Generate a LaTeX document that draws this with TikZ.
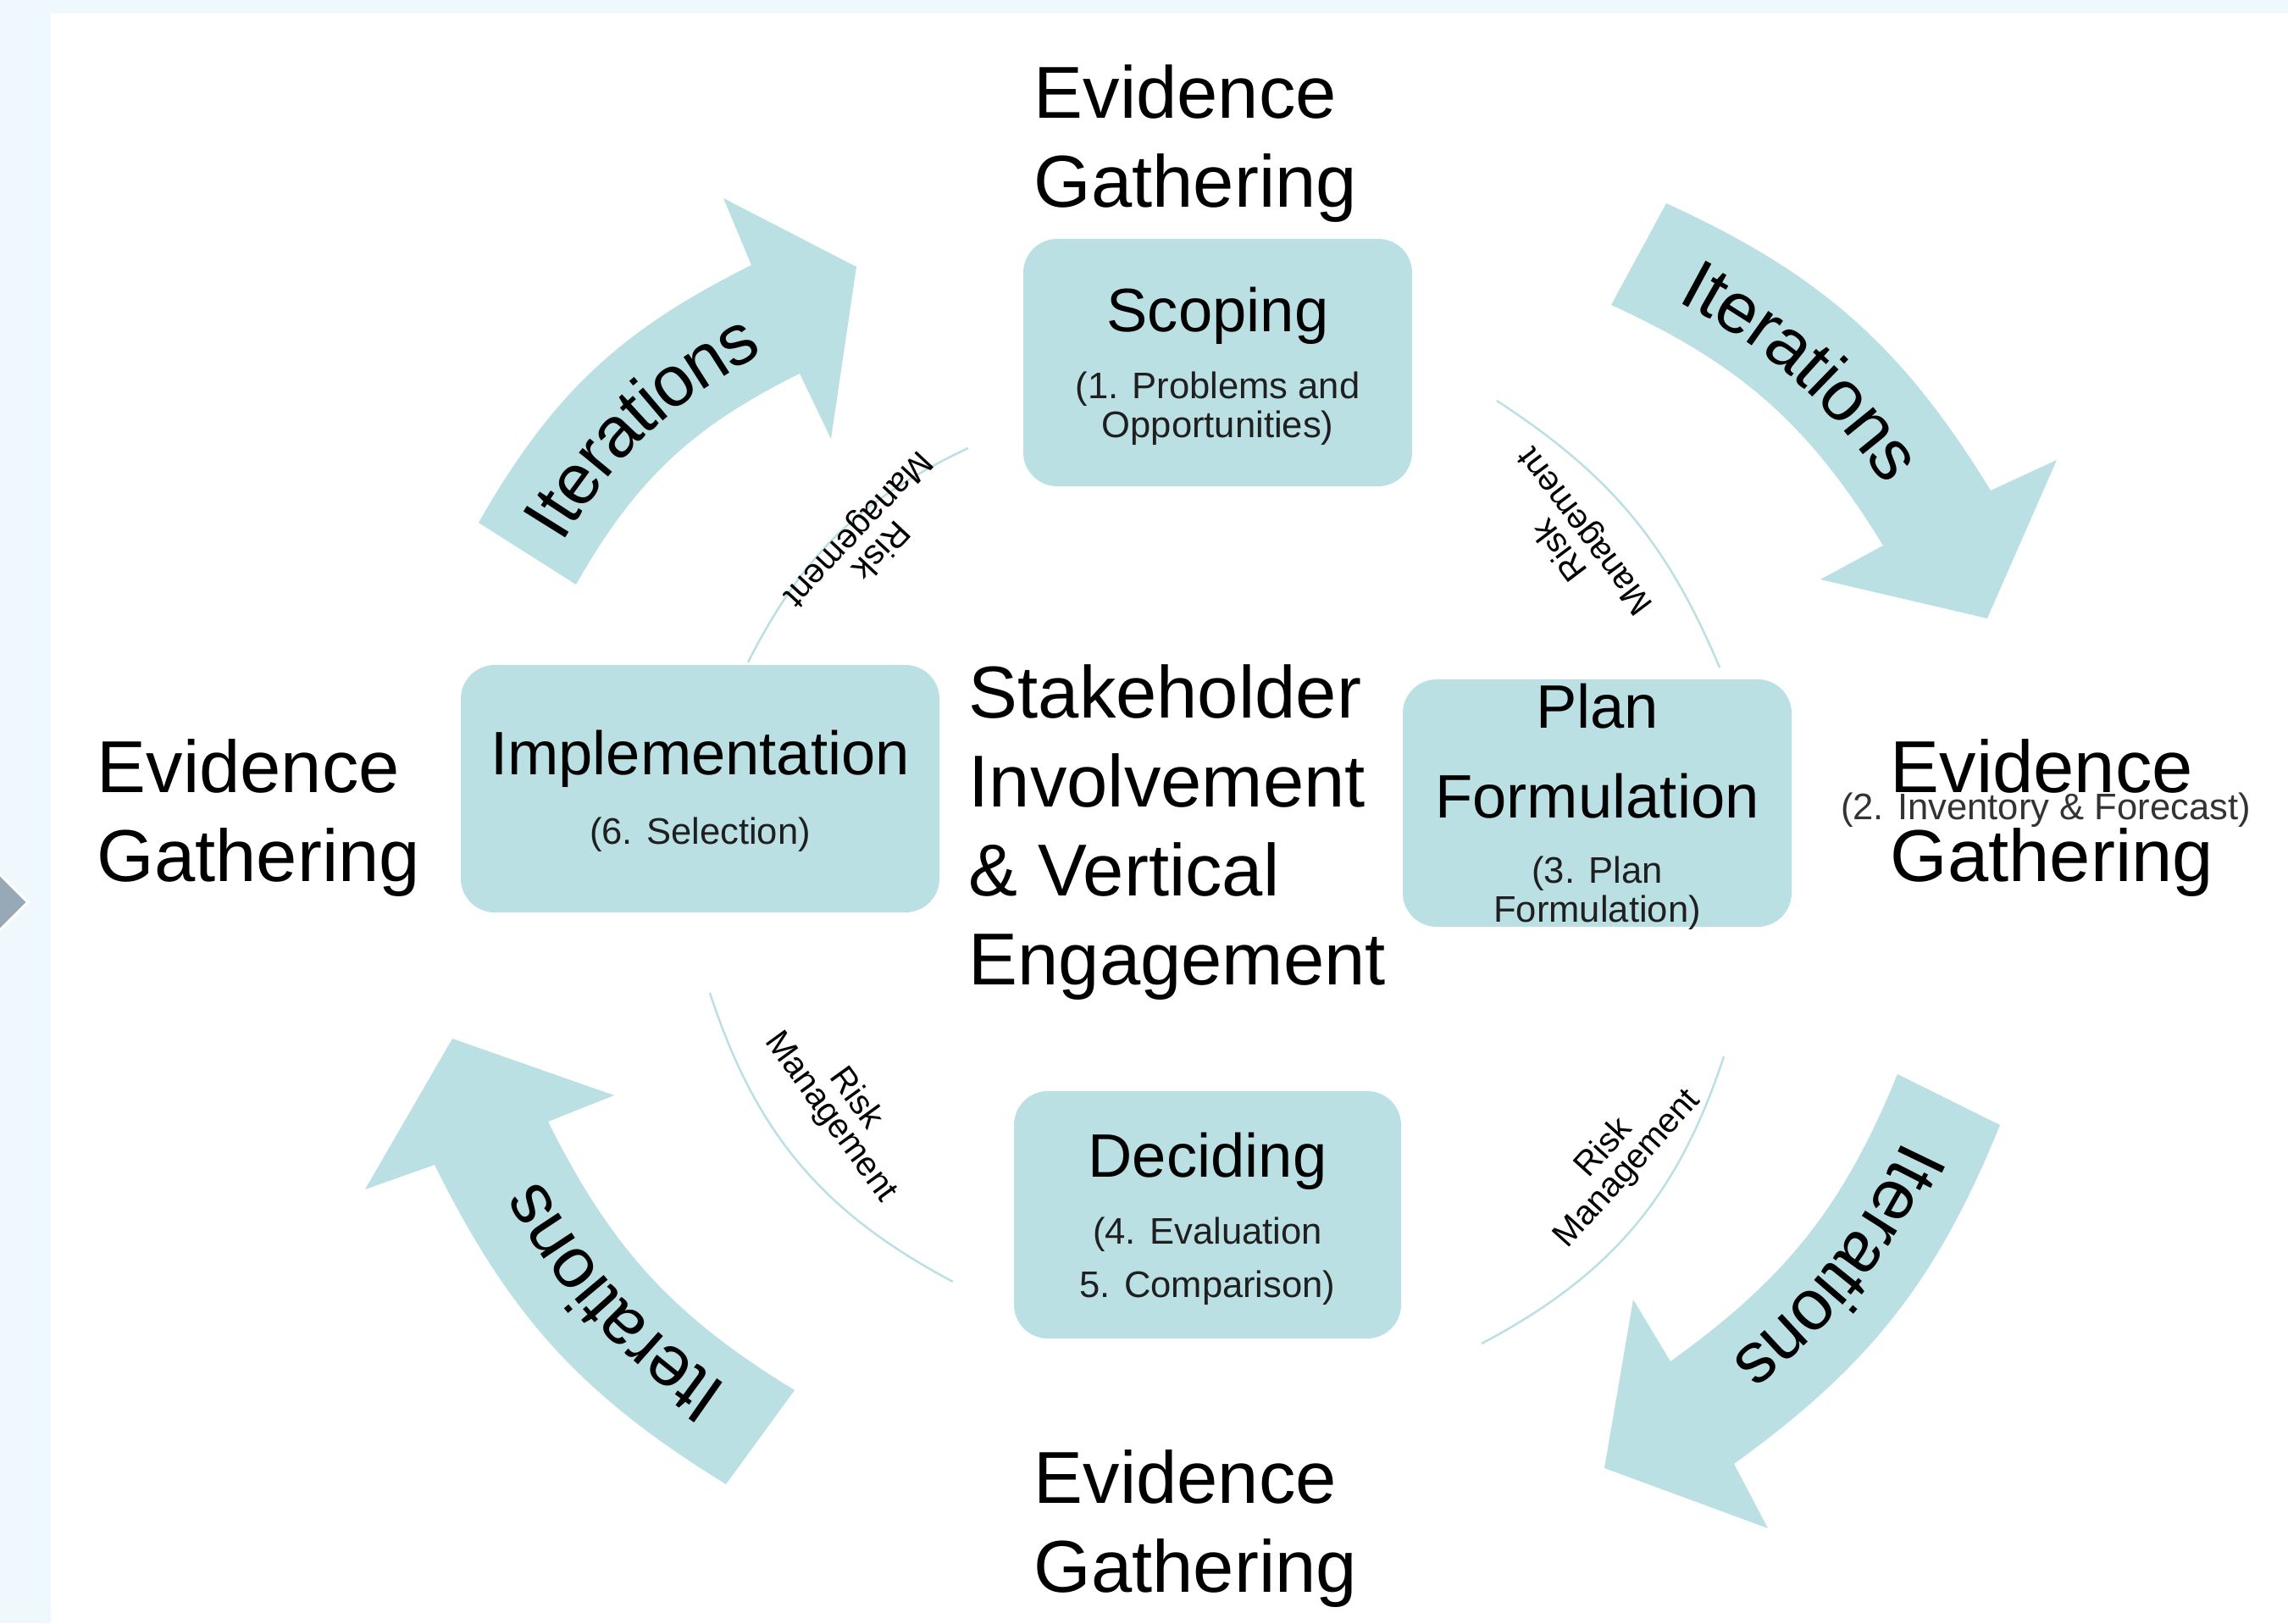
\documentclass[tikz,border=0pt]{standalone}
\usepackage{fontspec}
\setmainfont{Liberation Sans}
\usetikzlibrary{decorations.text}

\definecolor{stagefill}{RGB}{186,224,228}
\definecolor{pageblue}{RGB}{238,248,253}
\definecolor{tabgrey}{RGB}{151,169,182}

\newcommand{\bigfont}{\fontsize{24.7}{29.9}\selectfont}
\newcommand{\titlefont}{\fontsize{20.6}{30.2}\selectfont}
\newcommand{\subfont}{\fontsize{12.4}{13.2}\selectfont}
\newcommand{\riskfont}{\fontsize{11.5}{10.5}\selectfont}
\newcommand{\iterfont}{\fontsize{24}{24}\selectfont}

\tikzset{
  stage/.style={fill=stagefill, rounded corners=0.4cm, minimum height=2.92cm, inner sep=0pt},
  evidence/.style={anchor=north west, align=left, inner sep=0pt, font=\bigfont},
  stagetitle/.style={anchor=north, align=center, inner sep=0pt, font=\titlefont},
  stagesub/.style={anchor=north, align=center, inner sep=0pt, font=\subfont, text=black!88},
  risk/.style={align=center, inner sep=0pt, font=\riskfont},
  riskarc/.style={draw=stagefill, line width=0.7pt},
  iterarrow/.style={fill=stagefill},
  iterlabel/.style={decorate, decoration={text along path, text={|\iterfont|Iterations}, text align=center, raise=-8.5pt}}
}

\begin{document}
\begin{tikzpicture}
    \useasboundingbox (0,0) rectangle (27.01,19.16);
    % page background
    \fill[pageblue] (0,0) rectangle (27.01,19.16);
    \fill[white] (0.60,0) rectangle (27.01,19.00);
    \filldraw[fill=tabgrey, draw=white, line width=1pt] (0,8.84) -- (0.33,8.51) -- (0,8.18);

    % iteration arrows
    \fill[iterarrow] (5.65,12.99) to[bend left=17] (8.87,16.03) -- (8.54,16.82) -- (10.11,16.01)
        -- (9.81,13.98) -- (9.44,14.75) to[bend right=17] (6.80,12.26) -- cycle;
    \fill[iterarrow] (19.67,16.76) to[bend left=17] (23.50,13.37) -- (24.28,13.73) -- (23.46,11.86)
        -- (21.49,12.32) -- (22.23,12.72) to[bend right=17] (19.02,15.56) -- cycle;
    \fill[iterarrow] (23.61,5.88) to[bend left=16] (20.47,1.88) -- (20.87,1.12) -- (18.94,1.83)
        -- (19.28,3.82) -- (19.72,3.09) to[bend right=16] (22.40,6.48) -- cycle;
    \fill[iterarrow] (8.57,1.64) to[bend left=16] (5.13,5.41) -- (4.31,5.12) -- (5.34,6.90)
        -- (7.25,6.23) -- (6.47,5.92) to[bend right=16] (9.38,2.75) -- cycle;

    \path[iterlabel] (6.225,12.625) to[bend left=17] (9.155,15.39);
    \path[iterlabel] (19.345,16.16) to[bend left=17] (22.865,13.045);
    \path[iterlabel] (23.005,6.18) to[bend left=16] (20.095,2.485);
    \path[iterlabel] (8.975,2.195) to[bend left=16] (5.80,5.665);

    % stages
    \node[stage, minimum width=4.59cm] (scoping) at (14.375,14.88) {};
    \node[stage, minimum width=5.65cm] (impl) at (8.265,9.85) {};
    \node[stage, minimum width=4.59cm] (plan) at (18.855,9.68) {};
    \node[stage, minimum width=4.57cm] (deciding) at (14.255,4.82) {};

    \node[stagetitle] (scopingT) at (14.375,15.78) {Scoping};
    \node[stagesub] (scopingS) at (14.375,14.78) {(1. Problems and\\Opportunities)};
    \node[stagetitle] (implT) at (8.265,10.55) {Implementation};
    \node[stagesub] (implS) at (8.265,9.52) {(6. Selection)};
    \node[stagetitle] (planT) at (18.855,11.10) {Plan\\Formulation};
    \node[stagesub] (planS) at (18.855,9.06) {(3. Plan\\Formulation)};
    \node[stagetitle] (decidingT) at (14.255,5.80) {Deciding};
    \node[stagesub, font=\fontsize{12.4}{17.9}\selectfont] (decidingS) at (14.255,4.80) {(4. Evaluation\\5. Comparison)};

    % evidence gathering
    \node[evidence] (evTop) at (12.20,18.40) {Evidence\\Gathering};
    \node[evidence] (evLeft) at (1.14,10.44) {Evidence\\Gathering};
    \node[evidence] (evRight) at (22.31,10.44) {Evidence\\Gathering};
    \node[evidence] (evBottom) at (12.20,2.05) {Evidence\\Gathering};
    \node[anchor=base, inner sep=0pt, font=\subfont, text=black!80] (forecast) at (24.15,9.48) {(2. Inventory \& Forecast)};
    \node[evidence] (stakeholder) at (11.43,11.32) {Stakeholder\\Involvement\\\& Vertical\\Engagement};

    % risk management
    \coordinate (rmTLa) at (8.83,11.34);
    \coordinate (rmTLb) at (11.43,13.87);
    \coordinate (rmTRa) at (17.67,14.43);
    \coordinate (rmTRb) at (20.30,11.28);
    \coordinate (rmBRa) at (20.35,6.69);
    \coordinate (rmBRb) at (17.49,3.30);
    \coordinate (rmBLa) at (11.25,4.03);
    \coordinate (rmBLb) at (8.38,7.44);
    \draw[riskarc] (rmTLa) to[bend left=19] (rmTLb);
    \draw[riskarc] (rmTRa) to[bend left=17] (rmTRb);
    \draw[riskarc] (rmBRa) to[bend left=22] (rmBRb);
    \draw[riskarc] (rmBLa) to[bend left=22] (rmBLb);
    \node[risk, rotate=-133] (riskTL) at (10.25,12.80) {Risk\\Management};
    \node[risk, rotate=127] (riskTR) at (18.58,12.79) {Risk\\Management};
    \node[risk, rotate=-54] (riskBL) at (9.95,6.08) {Risk\\Management};
    \node[risk, rotate=48] (riskBR) at (19.08,5.48) {Risk\\Management};
\end{tikzpicture}
\end{document}
